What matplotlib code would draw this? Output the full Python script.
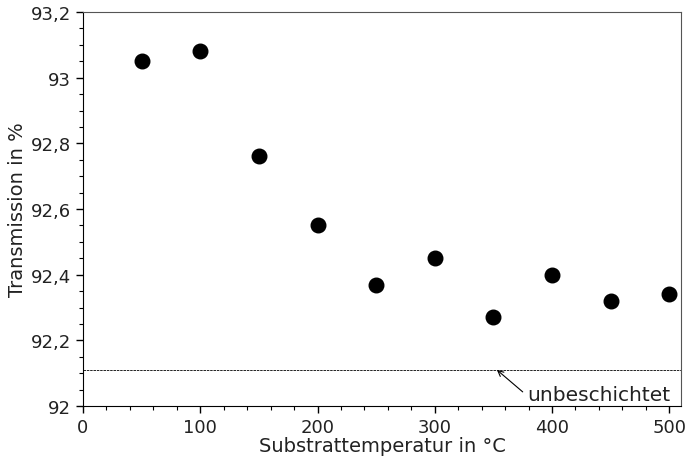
import matplotlib
matplotlib.use("Agg")
import matplotlib.pyplot as plt
from matplotlib.ticker import MultipleLocator, FuncFormatter

temps = [50, 100, 150, 200, 250, 300, 350, 400, 450, 500]
transmission = [93.05, 93.08, 92.76, 92.55, 92.37, 92.45, 92.27, 92.40, 92.32, 92.34]
uncoated = 92.11

fig = plt.figure(figsize=(6.89, 4.6), dpi=100)
ax = fig.add_axes([83/689, 53/460, 598/689, 394/460])

ax.scatter(temps, transmission, s=110, color="black", zorder=3)
ax.axhline(uncoated, color="black", lw=0.6, ls=(0, (3, 1)))

ax.set_xlim(0, 510)
ax.set_ylim(92, 93.2)
ax.xaxis.set_major_locator(MultipleLocator(100))
ax.xaxis.set_minor_locator(MultipleLocator(20))
ax.yaxis.set_major_locator(MultipleLocator(0.2))
ax.yaxis.set_minor_locator(MultipleLocator(0.05))
fmt = FuncFormatter(lambda v, p: ("%g" % round(v, 3)).replace(".", ","))
ax.yaxis.set_major_formatter(fmt)
ax.tick_params(which="major", direction="out", length=5, width=1, labelsize=13,
               labelcolor="#222222")
ax.tick_params(which="minor", direction="out", length=3, width=0.8)

for s in ["top", "right"]:
    ax.spines[s].set_color("#555555")
    ax.spines[s].set_linewidth(0.8)

ax.set_xlabel("Substrattemperatur in °C", fontsize=14, labelpad=0, color="#222222")
ax.set_ylabel("Transmission in %", fontsize=14, labelpad=3, color="#222222")

ax.annotate("", xy=(353, uncoated), xytext=(375, 92.043),
            arrowprops=dict(arrowstyle="->", color="black", lw=0.8, shrinkA=0, shrinkB=0))
ax.text(379, 92.034, "unbeschichtet", fontsize=14.5, ha="left", va="center",
        color="#222222")

fig.savefig("out.png", dpi=100)
